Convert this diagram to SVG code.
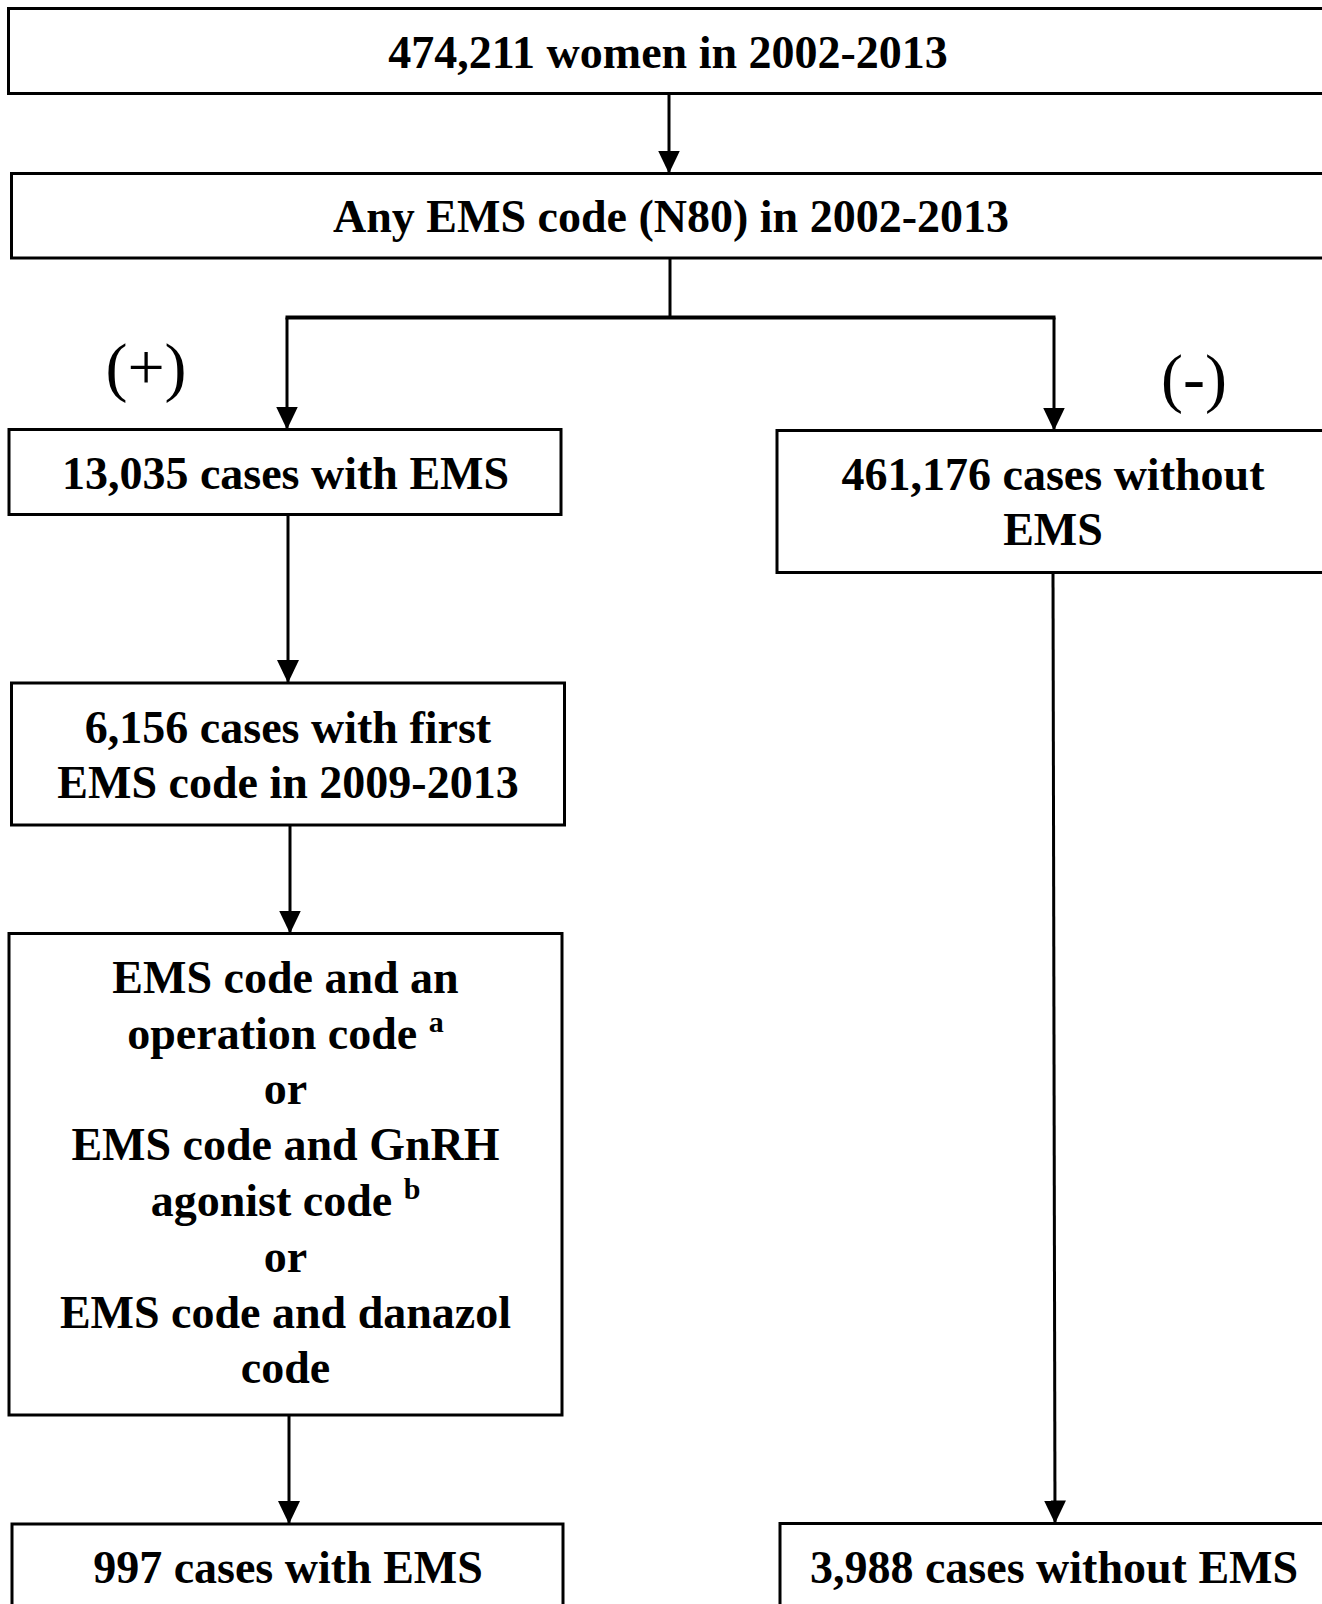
<svg xmlns="http://www.w3.org/2000/svg" width="1322" height="1604" viewBox="0 0 1322 1604">
<style>
.box{fill:#fff;stroke:#000;stroke-width:3}
.t{font-family:"Liberation Serif","Times New Roman",serif;font-weight:bold;font-size:46px;text-anchor:middle;fill:#000}
.sup{font-size:30px}
.lbl{font-family:"Liberation Serif","Times New Roman",serif;font-size:66px;text-anchor:middle;fill:#000}
.c{fill:none;stroke:#000;stroke-width:3}
</style>
<defs>
<marker id="ah" markerUnits="userSpaceOnUse" viewBox="0 0 23 22" markerWidth="23" markerHeight="22" refX="23" refY="11" orient="auto">
<path d="M0,0 L23,11 L0,22 z" fill="#000"/>
</marker>
</defs>
<rect width="1322" height="1604" fill="#fff"/>
<g id="connectors">
<line class="c" x1="669" y1="93.5" x2="669" y2="173.5" marker-end="url(#ah)"/>
<line class="c" x1="670" y1="258" x2="670" y2="317.5"/>
<line class="c" x1="285.5" y1="317.5" x2="1055.5" y2="317.5" style="stroke-width:3.8"/>
<line class="c" x1="287" y1="317.5" x2="287" y2="429.5" marker-end="url(#ah)"/>
<line class="c" x1="1054" y1="317.5" x2="1054" y2="430.5" marker-end="url(#ah)"/>
<line class="c" x1="288" y1="514.5" x2="288" y2="683" marker-end="url(#ah)"/>
<line class="c" x1="290" y1="825" x2="290" y2="933.5" marker-end="url(#ah)"/>
<line class="c" x1="289" y1="1415" x2="289" y2="1524" marker-end="url(#ah)"/>
<line class="c" x1="1053" y1="572.5" x2="1055" y2="1523.5" marker-end="url(#ah)"/>
</g>
<g id="label-plus"><text class="lbl" x="146" y="389">(+)</text></g>
<g id="label-minus"><text class="lbl" x="1194" y="400">(-)</text></g>
<g id="n1">
<rect class="box" x="8.5" y="8.5" width="1330" height="85"/>
<text class="t" x="668" y="68">474,211 women in 2002-2013</text>
</g>
<g id="n2">
<rect class="box" x="11.5" y="173.5" width="1330" height="84.5"/>
<text class="t" x="671" y="232">Any EMS code (N80) in 2002-2013</text>
</g>
<g id="n3">
<rect class="box" x="9" y="429.5" width="552" height="85"/>
<text class="t" x="285.5" y="489">13,035 cases with EMS</text>
</g>
<g id="n4">
<rect class="box" x="777" y="430.5" width="560" height="142"/>
<text class="t" x="1053" y="490">461,176 cases without</text>
<text class="t" x="1053" y="545">EMS</text>
</g>
<g id="n5">
<rect class="box" x="11.5" y="683" width="553" height="142"/>
<text class="t" x="288" y="743">6,156 cases with first</text>
<text class="t" x="288" y="798">EMS code in 2009-2013</text>
</g>
<g id="n6">
<rect class="box" x="9" y="933.5" width="553" height="481.5"/>
<text class="t" x="285.5" y="993">EMS code and an</text>
<text class="t" x="285.5" y="1048.5">operation code <tspan class="sup" dy="-17">a</tspan></text>
<text class="t" x="285.5" y="1104">or</text>
<text class="t" x="285.5" y="1160">EMS code and GnRH</text>
<text class="t" x="285.5" y="1215.5">agonist code <tspan class="sup" dy="-17">b</tspan></text>
<text class="t" x="285.5" y="1271.5">or</text>
<text class="t" x="285.5" y="1327.5">EMS code and danazol</text>
<text class="t" x="285.5" y="1383">code</text>
</g>
<g id="n7">
<rect class="box" x="12" y="1524" width="551" height="100"/>
<text class="t" x="288" y="1583">997 cases with EMS</text>
</g>
<g id="n8">
<rect class="box" x="780" y="1523.5" width="560" height="100"/>
<text class="t" x="1054" y="1583">3,988 cases without EMS</text>
</g>
</svg>
